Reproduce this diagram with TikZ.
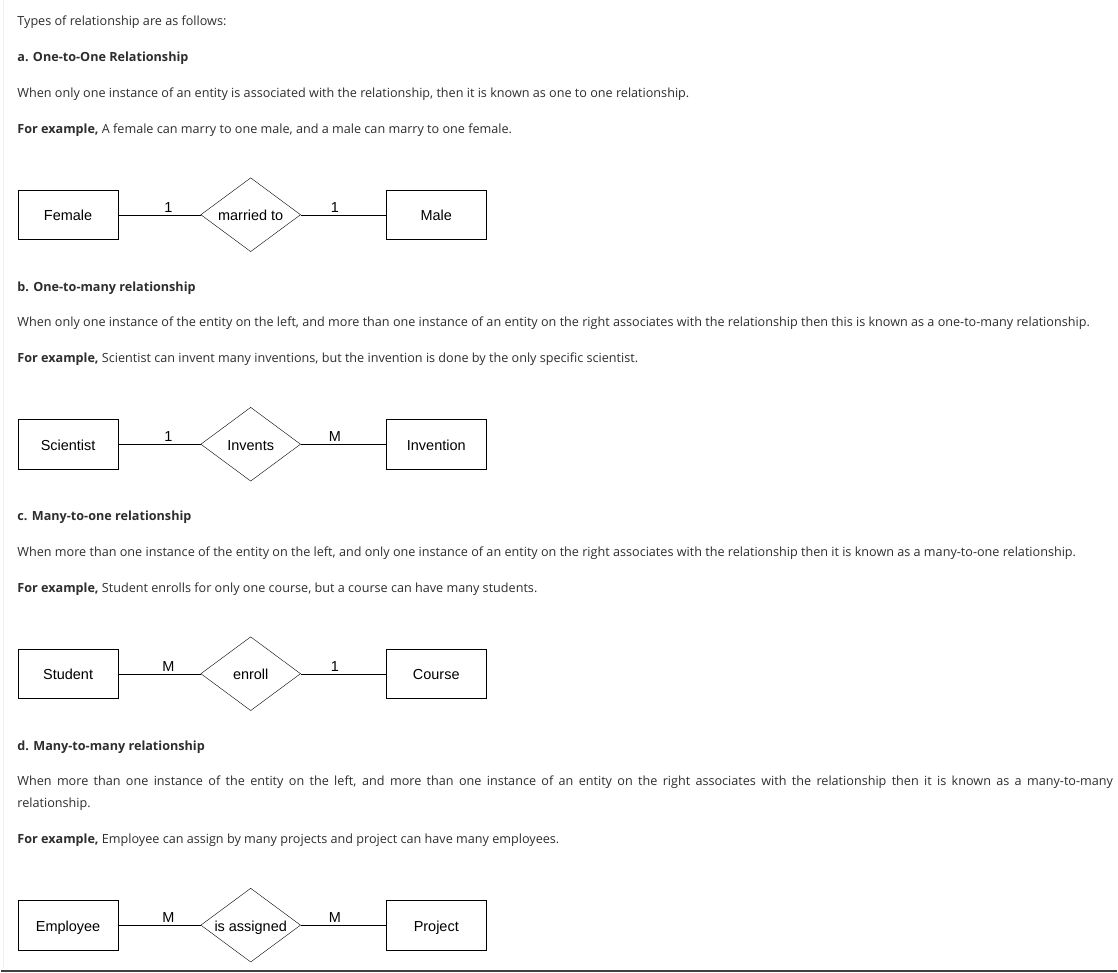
\documentclass[tikz,border=0pt]{standalone}
\usepackage{fontspec}
\setmainfont{Open Sans}
\newfontfamily\diagfont{Liberation Sans}
\usetikzlibrary{shapes.geometric}
\definecolor{bodytext}{HTML}{2E2E2E}
\newcommand{\bodysize}{\fontsize{12.65}{15}\selectfont}
\newcommand{\diagsize}{\diagfont\fontsize{14.5}{16}\selectfont}

\begin{document}
\begin{tikzpicture}[x=1pt,y=-1pt,
	txt/.style={anchor=base west, inner sep=0pt, text=bodytext, font=\bodysize},
	head/.style={txt, font=\bodysize\bfseries},
	entity/.style={draw, minimum width=100pt, minimum height=50pt, inner sep=0pt, text height=12pt, text depth=0pt, font=\diagsize},
	relation/.style={draw, diamond, minimum width=100pt, minimum height=74pt, inner sep=0pt},
	card/.style={above=2.5pt, inner sep=0pt, font=\diagsize},
	every label/.style={inner sep=0pt, text height=12pt, text depth=0pt, font=\diagsize}]
	\fill[white] (0,0) rectangle (1118,974);
	\draw[gray!12] (1.5,0)--(1.5,970);
	\draw[black!75, line width=2.5pt] (0,972.8)--(1118,972.8);
	% introduction
	\node[txt] (intro) at (16,25.5) {Types of relationship are as follows:};
	% a. one-to-one
	\node[head] (ha) at (16,61.5) {a. One-to-One Relationship};
	\node[txt] (ta) at (16,97.5) {When only one instance of an entity is associated with the relationship, then it is known as one to one relationship.};
	\node[txt] (ea) at (16,133.5) {\textbf{For example,} A female can marry to one male, and a male can marry to one female.};
	\node[entity] (female) at (67,215) {Female};
	\node[relation, label={center:married to}] (married) at (250,215) {};
	\node[entity] (male) at (436,215) {Male};
	\draw (female) -- node[card, pos=0.61] {1} (married);
	\draw (married) -- node[card, pos=0.4] {1} (male);
	% b. one-to-many
	\node[head] (hb) at (16,291.5) {b. One-to-many relationship};
	\node[txt] (tb) at (16,327.5) {When only one instance of the entity on the left, and more than one instance of an entity on the right associates with the relationship then this is known as a one-to-many relationship.};
	\node[txt] (eb) at (16,363.5) {\textbf{For example,} Scientist can invent many inventions, but the invention is done by the only specific scientist.};
	\node[entity] (scientist) at (67,445) {Scientist};
	\node[relation, label={center:Invents}] (invents) at (250,445) {};
	\node[entity] (invention) at (436,445) {Invention};
	\draw (scientist) -- node[card, pos=0.61] {1} (invents);
	\draw (invents) -- node[card, pos=0.4] {M} (invention);
	% c. many-to-one
	\node[head] (hc) at (16,521.5) {c. Many-to-one relationship};
	\node[txt] (tc) at (16,557.5) {When more than one instance of the entity on the left, and only one instance of an entity on the right associates with the relationship then it is known as a many-to-one relationship.};
	\node[txt] (ec) at (16,593.5) {\textbf{For example,} Student enrolls for only one course, but a course can have many students.};
	\node[entity] (student) at (67,675) {Student};
	\node[relation, label={center:enroll}] (enroll) at (250,675) {};
	\node[entity] (course) at (436,675) {Course};
	\draw (student) -- node[card, pos=0.61] {M} (enroll);
	\draw (enroll) -- node[card, pos=0.4] {1} (course);
	% d. many-to-many
	\node[head] (hd) at (16,751.5) {d. Many-to-many relationship};
	\node[txt] (td) at (16,787.5) {\makebox[1098pt][s]{When more than one instance of the entity on the left, and more than one instance of an entity on the right associates with the relationship then it is known as a many-to-many}};
	\node[txt] (td2) at (16,809.5) {relationship.};
	\node[txt] (ed) at (16,845.5) {\textbf{For example,} Employee can assign by many projects and project can have many employees.};
	\node[entity] (employee) at (67,927) {Employee};
	\node[relation, label={center:is assigned}] (assigned) at (250,927) {};
	\node[entity] (project) at (436,927) {Project};
	\draw (employee) -- node[card, pos=0.61] {M} (assigned);
	\draw (assigned) -- node[card, pos=0.4] {M} (project);
\end{tikzpicture}
\end{document}
